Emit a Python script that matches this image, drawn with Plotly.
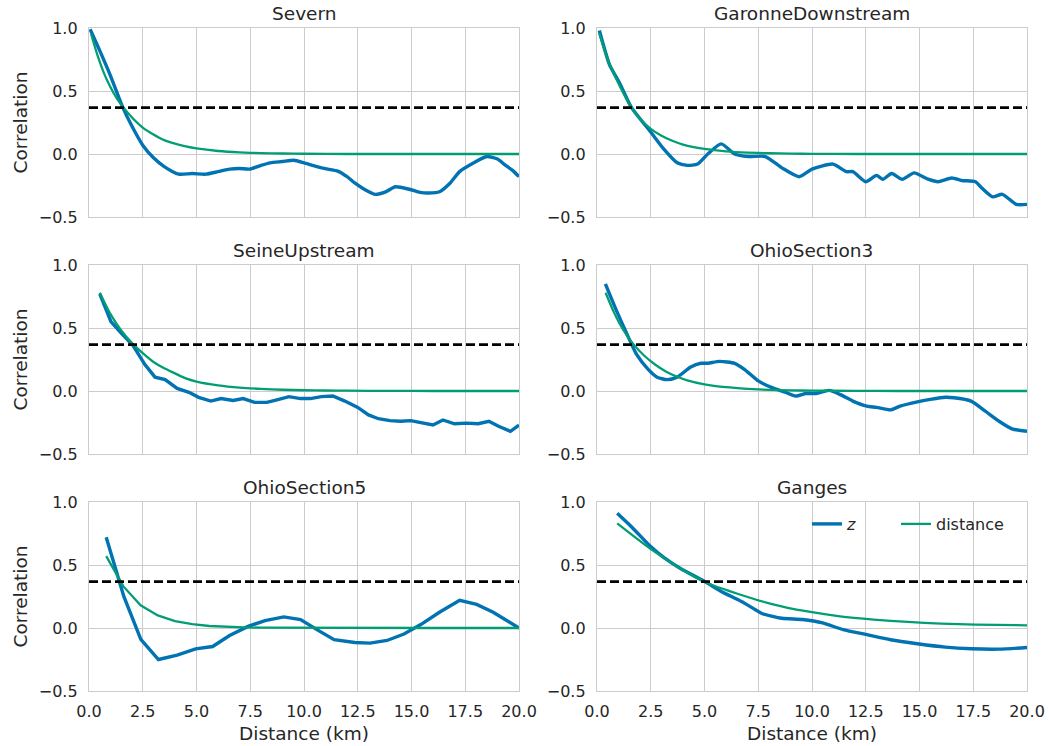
import numpy as np
import plotly.graph_objects as go

# ---------------------------------------------------------------------------
# Spatial correlation of z versus along-river distance, six river reaches
# ---------------------------------------------------------------------------
titles = ["Severn", "GaronneDownstream", "SeineUpstream",
          "OhioSection3", "OhioSection5", "Ganges"]

# correlation of z
severn_z_x = [0.05, 0.5, 1.0, 1.57, 2.0, 2.5, 3.0, 3.5, 4.17, 4.8, 5.43, 6.0, 6.54, 7.0,
              7.48, 8.0, 8.43, 9.0, 9.53, 10.0, 10.6, 11.1, 11.57, 12.0, 12.36, 12.8,
              13.3, 13.8, 14.25, 14.9, 15.4, 15.8, 16.3, 16.8, 17.24, 17.9, 18.5, 19.0,
              19.3, 19.7, 20.0]
severn_z = [0.99, 0.82, 0.62, 0.37, 0.22, 0.07, -0.03, -0.10, -0.16, -0.155, -0.16, -0.14,
            -0.12, -0.115, -0.12, -0.09, -0.07, -0.06, -0.05, -0.07, -0.10, -0.12, -0.136,
            -0.18, -0.23, -0.28, -0.32, -0.30, -0.26, -0.28, -0.305, -0.31, -0.30, -0.23,
            -0.14, -0.07, -0.02, -0.04, -0.08, -0.13, -0.18]

garonne_z_x = [0.11, 0.58, 1.06, 1.6, 2.47, 3.1, 3.73, 4.2, 4.68, 5.15, 5.78, 6.4, 7.04,
               7.83, 8.6, 9.4, 10.0, 10.98, 11.6, 11.9, 12.5, 13.0, 13.3, 13.7, 14.2,
               14.75, 15.4, 15.86, 16.5, 16.96, 17.6, 17.9, 18.4, 18.85, 19.5, 20.0]
garonne_z = [0.98, 0.71, 0.56, 0.37, 0.18, 0.04, -0.07, -0.09, -0.08, 0.0, 0.08, 0.0, -0.02,
             -0.02, -0.11, -0.18, -0.12, -0.08, -0.14, -0.14, -0.22, -0.17, -0.20, -0.155,
             -0.20, -0.15, -0.20, -0.22, -0.19, -0.21, -0.22, -0.27, -0.34, -0.32, -0.40,
             -0.40]

seine_z_x = [0.5, 1.02, 1.5, 2.05, 2.6, 3.07, 3.54, 4.1, 4.65, 5.1, 5.67, 6.14, 6.7, 7.17,
             7.7, 8.27, 8.74, 9.3, 9.84, 10.3, 10.8, 11.34, 11.9, 12.5, 13.0, 13.46, 14.0,
             14.5, 14.96, 15.5, 16.0, 16.46, 17.0, 17.56, 18.1, 18.6, 19.05, 19.6, 20.0]
seine_z = [0.77, 0.55, 0.46, 0.36, 0.21, 0.11, 0.09, 0.02, -0.01, -0.05, -0.08, -0.06,
           -0.075, -0.06, -0.09, -0.09, -0.07, -0.045, -0.06, -0.06, -0.045, -0.04, -0.08,
           -0.13, -0.19, -0.22, -0.235, -0.24, -0.235, -0.255, -0.27, -0.23, -0.26, -0.255,
           -0.26, -0.24, -0.28, -0.32, -0.27]

ohio3_z_x = [0.39, 0.9, 1.37, 1.84, 2.39, 2.8, 3.26, 3.73, 4.36, 4.83, 5.15, 5.7, 6.4,
             6.87, 7.5, 8.14, 8.77, 9.24, 9.72, 10.2, 10.8, 11.3, 11.9, 12.55, 13.0, 13.65,
             14.1, 14.9, 15.5, 16.2, 16.6, 17.4, 18.06, 18.7, 19.3, 20.0]
ohio3_z = [0.85, 0.64, 0.46, 0.29, 0.17, 0.11, 0.09, 0.11, 0.19, 0.22, 0.22, 0.235, 0.22,
           0.17, 0.08, 0.027, -0.01, -0.04, -0.02, -0.02, 0.005, -0.027, -0.08, -0.12,
           -0.13, -0.15, -0.12, -0.086, -0.067, -0.05, -0.054, -0.08, -0.16, -0.24, -0.30,
           -0.32]

ohio5_z_x = [0.8, 1.62, 2.41, 3.23, 4.1, 4.96, 5.75, 6.54, 7.4, 8.19, 9.06, 9.84, 10.6,
             11.4, 12.36, 13.07, 13.86, 14.65, 15.43, 16.3, 17.24, 18.03, 18.8, 20.0]
ohio5_z = [0.72, 0.25, -0.09, -0.25, -0.215, -0.165, -0.147, -0.06, 0.013, 0.059, 0.088,
           0.067, -0.013, -0.093, -0.115, -0.12, -0.099, -0.048, 0.027, 0.125, 0.22, 0.187,
           0.125, 0.0]

ganges_z_x = [0.94, 1.68, 2.47, 3.1, 3.9, 5.0, 5.78, 6.72, 7.35, 7.67, 8.6, 9.56, 10.5,
              11.45, 12.55, 13.65, 14.9, 16.2, 17.4, 18.7, 20.0]
ganges_z = [0.91, 0.79, 0.65, 0.56, 0.47, 0.37, 0.29, 0.21, 0.147, 0.115, 0.077, 0.067,
            0.04, -0.013, -0.053, -0.093, -0.125, -0.152, -0.165, -0.168, -0.155]

# correlation predicted from distance alone
severn_d_x = [0.1, 0.4, 0.7, 1.0, 1.3, 1.6, 2.0, 2.5, 3.0, 3.5, 4.0, 4.5, 5.0, 6.0, 7.0,
              8.0, 9.0, 10.0, 12.0, 14.0, 16.0, 18.0, 20.0]
severn_d = [0.95, 0.78, 0.64, 0.53, 0.44, 0.37, 0.29, 0.21, 0.155, 0.11, 0.082, 0.06,
            0.044, 0.024, 0.013, 0.007, 0.004, 0.002, 0.0, 0.0, 0.0, 0.0, 0.0]

garonne_d_x = [0.1, 0.5, 1.0, 1.6, 2.0, 2.5, 3.0, 3.5, 4.0, 4.5, 5.0, 6.0, 7.0, 8.0, 9.0,
               10.0, 12.0, 14.0, 16.0, 18.0, 20.0]
garonne_d = [0.96, 0.75, 0.56, 0.37, 0.28, 0.20, 0.145, 0.105, 0.075, 0.055, 0.04, 0.021,
             0.011, 0.006, 0.003, 0.0015, 0.0, 0.0, 0.0, 0.0, 0.0]

seine_d_x = [0.5, 1.0, 1.5, 2.0, 2.5, 3.0, 3.5, 4.0, 4.5, 5.0, 6.0, 7.0, 8.0, 9.0, 10.0,
             11.0, 12.0, 14.0, 16.0, 18.0, 20.0]
seine_d = [0.78, 0.61, 0.48, 0.38, 0.30, 0.23, 0.18, 0.14, 0.10, 0.075, 0.045, 0.027,
           0.017, 0.010, 0.006, 0.004, 0.0025, 0.001, 0.0, 0.0, 0.0]

ohio3_d_x = [0.4, 0.8, 1.2, 1.7, 2.2, 2.7, 3.2, 3.7, 4.2, 5.0, 6.0, 7.0, 8.0, 9.0, 10.0,
             12.0, 14.0, 16.0, 18.0, 20.0]
ohio3_d = [0.78, 0.62, 0.49, 0.37, 0.28, 0.21, 0.155, 0.115, 0.085, 0.053, 0.03, 0.017,
           0.009, 0.005, 0.003, 0.001, 0.0, 0.0, 0.0, 0.0]

ohio5_d_x = [0.8, 1.6, 2.4, 3.2, 4.0, 4.8, 5.6, 6.4, 7.2, 8.0, 10.0, 12.0, 14.0, 16.0,
             18.0, 20.0]
ohio5_d = [0.57, 0.33, 0.18, 0.10, 0.055, 0.03, 0.016, 0.009, 0.005, 0.003, 0.001, 0.0,
           0.0, 0.0, 0.0, 0.0]

ganges_d_x = [0.94, 2.47, 3.9, 5.15, 6.57, 8.14, 9.72, 11.3, 12.87, 14.45, 16.0, 17.6, 20.0]
ganges_d = [0.83, 0.63, 0.47, 0.355, 0.27, 0.19, 0.133, 0.093, 0.067, 0.048, 0.035, 0.027,
            0.021]

z_x = [severn_z_x, garonne_z_x, seine_z_x, ohio3_z_x, ohio5_z_x, ganges_z_x]
z_y = [severn_z, garonne_z, seine_z, ohio3_z, ohio5_z, ganges_z]
d_x = [severn_d_x, garonne_d_x, seine_d_x, ohio3_d_x, ohio5_d_x, ganges_d_x]
d_y = [severn_d, garonne_d, seine_d, ohio3_d, ohio5_d, ganges_d]
z_smooth = [True, True, False, True, False, True]
d_smooth = [True, True, True, True, False, True]

# e-folding threshold (1/e)
e_fold = float(np.exp(-1.0))

x_ticks = [0, 2.5, 5, 7.5, 10, 12.5, 15, 17.5, 20]
x_ticktext = ["0.0", "2.5", "5.0", "7.5", "10.0", "12.5", "15.0", "17.5", "20.0"]
y_ticks = [-0.5, 0, 0.5, 1.0]
y_ticktext = ["\u22120.5", "0.0", "0.5", "1.0"]

BLUE = "#0173b2"
GREEN = "#029e73"
GRID = "#cccccc"
TEXT = "#262626"
FONT = "DejaVu Sans"

W, H = 1049, 746
col_dom = [[89 / W, 519 / W], [597 / W, 1027 / W]]
row_px = [(28, 217), (265, 454), (502, 691)]
row_dom = [[1 - b / H, 1 - t / H] for t, b in row_px]

legend_common = dict(orientation="h", xanchor="left", y=1 - 524 / H, yanchor="middle",
                     bgcolor="rgba(0,0,0,0)", borderwidth=0,
                     font=dict(family=FONT, size=16, color=TEXT))

fig = go.Figure()
layout = dict(
    width=W, height=H, margin=dict(l=0, r=0, t=0, b=0, autoexpand=False),
    paper_bgcolor="white", plot_bgcolor="white",
    font=dict(family=FONT, color=TEXT, size=16),
    showlegend=True,
    legend=dict(x=807 / W, **legend_common),
    legend2=dict(x=896 / W, **legend_common),
)
annotations = []
shapes = []

for i, name in enumerate(titles):
    r, c = divmod(i, 2)
    ax = "" if i == 0 else str(i + 1)
    xa, ya = "x" + ax, "y" + ax
    fig.add_trace(go.Scatter(
        x=z_x[i], y=z_y[i], mode="lines", xaxis=xa, yaxis=ya,
        line=dict(color=BLUE, width=3.4, shape="spline" if z_smooth[i] else "linear",
                  smoothing=0.6),
        name="<i>z</i>", legend="legend", showlegend=(i == 5)))
    fig.add_trace(go.Scatter(
        x=d_x[i], y=d_y[i], mode="lines", xaxis=xa, yaxis=ya,
        line=dict(color=GREEN, width=2.3, shape="spline" if d_smooth[i] else "linear",
                  smoothing=0.6),
        name="distance", legend="legend2", showlegend=(i == 5)))

    bottom = (r == 2)
    layout["xaxis" + ax] = dict(
        domain=col_dom[c], anchor=ya, range=[0, 20], tickvals=x_ticks,
        ticktext=x_ticktext, showticklabels=bottom, automargin=False,
        showgrid=True, gridcolor=GRID, gridwidth=1.2,
        zeroline=False, showline=True, linecolor=GRID, linewidth=1.3, mirror=True,
        ticks="", ticklabelstandoff=6, tickfont=dict(size=16, color=TEXT, family=FONT))
    layout["yaxis" + ax] = dict(
        domain=row_dom[r], anchor=xa, range=[-0.5, 1.0], tickvals=y_ticks,
        ticktext=y_ticktext, automargin=False,
        showgrid=True, gridcolor=GRID, gridwidth=1.2,
        zeroline=False, showline=True, linecolor=GRID, linewidth=1.3, mirror=True,
        ticks="", ticklabelstandoff=7, tickfont=dict(size=16, color=TEXT, family=FONT))

    shapes.append(dict(type="line", xref=xa + " domain", yref=ya, x0=0, x1=1,
                       y0=e_fold, y1=e_fold,
                       line=dict(color="black", width=2.6, dash="9px,4px")))

    xmid = (col_dom[c][0] + col_dom[c][1]) / 2
    annotations.append(dict(text=name, x=xmid, y=row_dom[r][1], xref="paper",
                            yref="paper", xanchor="center", yanchor="bottom", yshift=2,
                            showarrow=False, font=dict(size=18.5, color=TEXT, family=FONT)))
    if c == 0:
        annotations.append(dict(text="Correlation", x=20 / W,
                                y=(row_dom[r][0] + row_dom[r][1]) / 2, xref="paper",
                                yref="paper", xanchor="center", yanchor="middle",
                                textangle=-90, showarrow=False,
                                font=dict(size=18.5, color=TEXT, family=FONT)))
    if bottom:
        annotations.append(dict(text="Distance (km)", x=xmid, y=1 - 733 / H,
                                xref="paper", yref="paper", xanchor="center",
                                yanchor="middle", showarrow=False,
                                font=dict(size=18.5, color=TEXT, family=FONT)))

layout["annotations"] = annotations
layout["shapes"] = shapes
fig.update_layout(**layout)
fig.write_html("out.html")
